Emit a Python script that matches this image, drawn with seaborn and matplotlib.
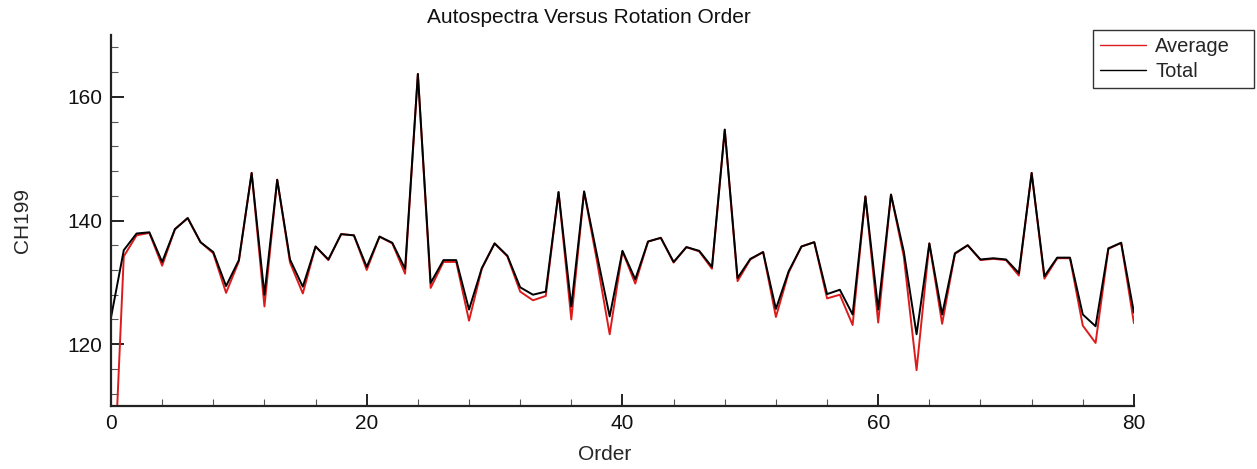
import numpy as np
import pandas as pd
import matplotlib
matplotlib.use('Agg')
import matplotlib.pyplot as plt
from matplotlib.ticker import MultipleLocator
import seaborn as sns

# Data
order = list(range(81))

total = [124.3, 135.2, 137.9, 138.1, 133.3, 138.6, 140.4, 136.5, 134.9, 129.4,
         133.6, 147.7, 128.0, 146.6, 133.7, 129.3, 135.8, 133.7, 137.8, 137.6,
         132.5, 137.4, 136.4, 132.2, 163.7, 129.9, 133.6, 133.6, 125.6, 132.3,
         136.3, 134.3, 129.2, 128.0, 128.5, 144.6, 126.1, 144.7, 134.5, 124.5,
         135.1, 130.5, 136.6, 137.2, 133.3, 135.7, 135.1, 132.5, 154.7, 130.7,
         133.8, 134.9, 125.7, 131.8, 135.8, 136.5, 128.1, 128.8, 124.8, 143.9,
         125.6, 144.2, 135.0, 121.6, 136.3, 124.8, 134.7, 136.0, 133.7, 133.9,
         133.7, 131.5, 147.7, 131.0, 134.0, 134.0, 124.8, 122.9, 135.5, 136.4,
         125.1]

average = [87.0, 134.2, 137.6, 138.0, 132.7, 138.6, 140.4, 136.5, 134.7, 128.3,
           133.4, 147.7, 126.1, 146.6, 133.2, 128.2, 135.8, 133.6, 137.8, 137.6,
           132.0, 137.4, 136.3, 131.4, 163.7, 129.1, 133.3, 133.3, 123.8, 132.2,
           136.3, 134.2, 128.5, 127.1, 127.8, 144.6, 124.0, 144.7, 133.5, 121.6,
           135.0, 129.8, 136.6, 137.2, 133.2, 135.7, 135.0, 132.2, 154.7, 130.2,
           133.7, 134.9, 124.4, 131.6, 135.8, 136.5, 127.4, 128.0, 123.1, 143.9,
           123.5, 144.2, 134.2, 115.8, 136.3, 123.3, 134.6, 136.0, 133.6, 133.8,
           133.6, 131.1, 147.7, 130.6, 133.9, 133.9, 123.0, 120.2, 135.4, 136.4,
           123.4]

df = pd.DataFrame({
    'Order': order * 2,
    'CH199': average + total,
    'series': ['Average'] * len(order) + ['Total'] * len(order),
})

sns.set_style('ticks')
plt.rcParams['font.family'] = ['Liberation Sans', 'DejaVu Sans']

fig = plt.figure(figsize=(12.57, 4.69), dpi=100)
ax = fig.add_axes([0.0883, 0.1343, 0.8138, 0.7910])

sns.lineplot(data=df, x='Order', y='CH199', hue='series',
             palette={'Average': '#dc1c1c', 'Total': '#000000'},
             linewidth=1.4, ax=ax, legend=False)

ax.set_xlim(0, 80)
ax.set_ylim(110, 170)
ax.xaxis.set_major_locator(MultipleLocator(20))
ax.xaxis.set_minor_locator(MultipleLocator(4))
ax.yaxis.set_major_locator(MultipleLocator(20))
ax.yaxis.set_minor_locator(MultipleLocator(4))
ax.tick_params(which='major', direction='in', length=9, width=1.4,
               labelsize=15, pad=6, colors='#222222')
ax.tick_params(which='minor', direction='in', length=5, width=0.8,
               colors='#555555')
ax.tick_params(axis='both', labelcolor='#111111')
for s in ['top', 'right']:
    ax.spines[s].set_visible(False)
for s in ['left', 'bottom']:
    ax.spines[s].set_linewidth(1.6)
    ax.spines[s].set_color('#222222')

ax.set_xlabel('Order', fontsize=15)
ax.xaxis.set_label_coords(0.483, -0.105)
ax.set_ylabel('CH199', fontsize=15, labelpad=26)
fig.text(0.4686, 0.983, 'Autospectra Versus Rotation Order',
         fontsize=15, ha='center', va='top', color='#111111')

# legend box spans roughly x 1093-1255, y 30-90 px in the reference
handles = [plt.Line2D([], [], color='#dc1c1c', lw=1.0),
           plt.Line2D([], [], color='#000000', lw=1.0)]
leg = fig.legend(handles, ['Average', 'Total'], loc='upper left',
                 bbox_to_anchor=(0.8695, 0.0, 0.1285, 0.937),
                 mode='expand', fontsize=14.5,
                 frameon=True, fancybox=False, handlelength=2.3,
                 borderpad=0.35, labelspacing=0.3, handletextpad=0.45,
                 borderaxespad=0)
leg.get_frame().set_edgecolor('black')
leg.get_frame().set_linewidth(1.0)

fig.savefig('out.png', dpi=100)
